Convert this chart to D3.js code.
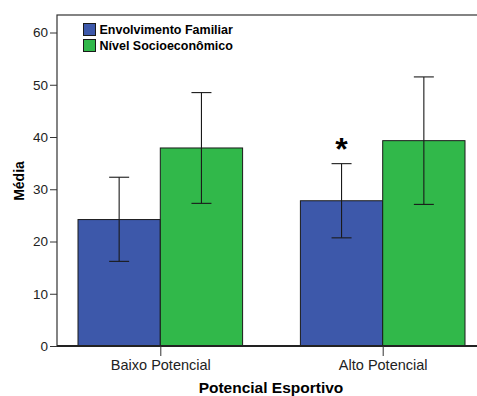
<!DOCTYPE html>
<html>
<head>
<meta charset="utf-8">
<script src="https://cdn.jsdelivr.net/npm/d3@7"></script>
<style>
  body { margin: 0; background: #fff; }
  svg { display: block; font-family: "Liberation Sans", Arial, sans-serif; }
</style>
</head>
<body>
<svg id="chart" width="477" height="396"></svg>
<script>
const categories = ["Baixo Potencial", "Alto Potencial"];
const seriesNames = ["Envolvimento Familiar", "Nível Socioeconômico"];
const meanEnvolvimento = [24.2, 27.8];
const lowEnvolvimento = [16.2, 20.7];
const highEnvolvimento = [32.3, 34.9];
const meanSocio = [37.9, 39.3];
const lowSocio = [27.3, 27.1];
const highSocio = [48.5, 51.5];
const yTicks = [0, 10, 20, 30, 40, 50, 60];
const colors = ["#3d58aa", "#31b84a"];

const data = [];
categories.forEach((c, i) => {
  data.push({ cat: c, s: seriesNames[0], val: meanEnvolvimento[i], lo: lowEnvolvimento[i], hi: highEnvolvimento[i] });
  data.push({ cat: c, s: seriesNames[1], val: meanSocio[i], lo: lowSocio[i], hi: highSocio[i] });
});

const svg = d3.select("#chart");
const mLeft = 57, mTop = 15, mRight = 486, mBottom = 346;

const x = d3.scalePoint().domain(categories).range([160.3, 382.7]);
const xs = d3.scaleBand().domain(seriesNames).range([-82.3, 82.3]);
const y = d3.scaleLinear().domain([0, 63.35]).range([mBottom, mTop]);

// frame
svg.append("rect")
  .attr("x", mLeft).attr("y", mTop)
  .attr("width", mRight - mLeft).attr("height", mBottom - mTop)
  .attr("fill", "none").attr("stroke", "#333").attr("stroke-width", 1.2);

// bars
svg.selectAll(".bar").data(data).enter().append("rect")
  .attr("class", "bar")
  .attr("x", d => x(d.cat) + xs(d.s))
  .attr("width", xs.bandwidth())
  .attr("y", d => y(d.val))
  .attr("height", d => y(0) - y(d.val))
  .attr("fill", d => colors[seriesNames.indexOf(d.s)])
  .attr("stroke", "#1a1a1a").attr("stroke-width", 1);

// error bars
const eb = svg.selectAll(".err").data(data).enter().append("g")
  .attr("stroke", "#1a1a1a").attr("stroke-width", 1.1);
eb.append("line")
  .attr("x1", d => x(d.cat) + xs(d.s) + xs.bandwidth() / 2)
  .attr("x2", d => x(d.cat) + xs(d.s) + xs.bandwidth() / 2)
  .attr("y1", d => y(d.lo)).attr("y2", d => y(d.hi));
["lo", "hi"].forEach(k => {
  eb.append("line")
    .attr("x1", d => x(d.cat) + xs(d.s) + xs.bandwidth() / 2 - 10)
    .attr("x2", d => x(d.cat) + xs(d.s) + xs.bandwidth() / 2 + 10)
    .attr("y1", d => y(d[k])).attr("y2", d => y(d[k]));
});

// asterisk
svg.append("text")
  .attr("x", x("Alto Potencial") + xs(seriesNames[0]) + xs.bandwidth() / 2)
  .attr("y", y(34.9) - 4)
  .attr("text-anchor", "middle")
  .style("font-size", "32px").style("font-weight", "bold")
  .text("*");

// y axis
const yAxis = svg.append("g")
  .attr("transform", "translate(" + mLeft + ",0)")
  .call(d3.axisLeft(y).tickValues(yTicks).tickSize(7).tickPadding(2));
yAxis.select(".domain").remove();
yAxis.selectAll("line").attr("stroke", "#333");
yAxis.selectAll("text").style("font-size", "13.5px").attr("fill", "#222")
  .style("font-family", "'Liberation Sans', Arial, sans-serif");

// x axis
const xAxis = svg.append("g")
  .attr("transform", "translate(0," + mBottom + ")")
  .call(d3.axisBottom(x).tickSize(10).tickPadding(4));
xAxis.select(".domain").attr("d", "M" + mLeft + ",0H" + mRight).attr("stroke", "#222").attr("stroke-width", 2);
xAxis.selectAll("line").attr("stroke", "#333");
xAxis.selectAll("text").style("font-size", "14.5px").attr("fill", "#222")
  .style("font-family", "'Liberation Sans', Arial, sans-serif");

// axis titles
svg.append("text")
  .attr("transform", "translate(24," + 181 + ") rotate(-90)")
  .attr("text-anchor", "middle")
  .style("font-size", "14px").style("font-weight", "bold")
  .text("Média");
svg.append("text")
  .attr("x", 271).attr("y", 393)
  .attr("text-anchor", "middle")
  .style("font-size", "15.5px").style("font-weight", "bold")
  .text("Potencial Esportivo");

// legend
const lg = svg.selectAll(".lg").data(seriesNames).enter().append("g")
  .attr("transform", (d, i) => "translate(83.5," + (23.5 + i * 16) + ")");
lg.append("rect").attr("width", 12).attr("height", 12)
  .attr("fill", (d, i) => colors[i]).attr("stroke", "#1a1a1a");
lg.append("text").attr("x", 16).attr("y", 10.5)
  .style("font-size", "12.5px").style("font-weight", "bold")
  .text(d => d);
</script>
</body>
</html>
